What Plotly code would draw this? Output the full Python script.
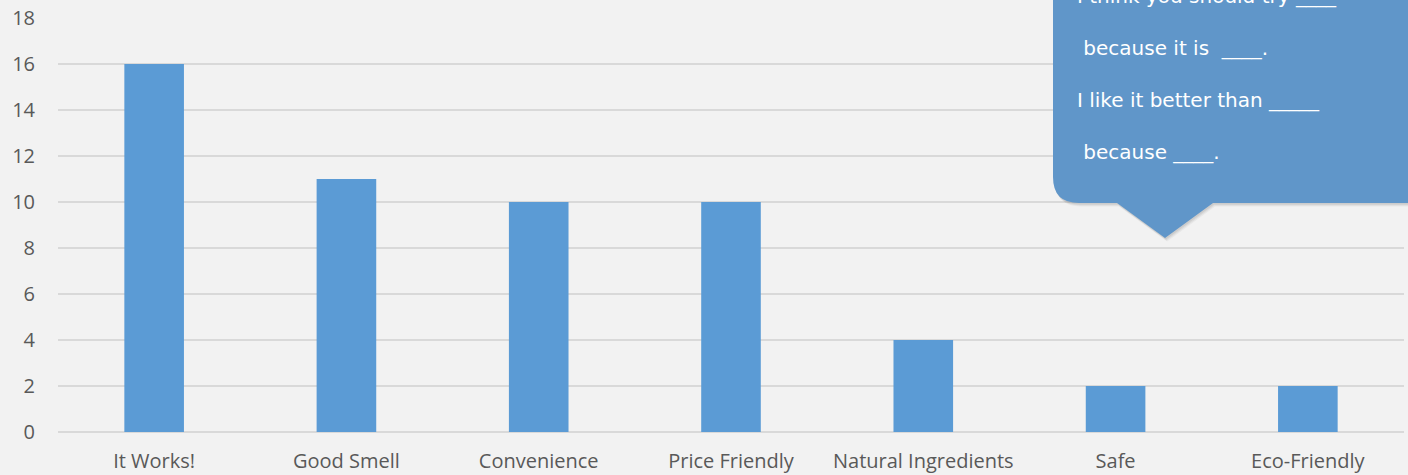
import plotly.graph_objects as go

# Survey results: reasons for choosing a product
categories = ["It Works!", "Good Smell", "Convenience", "Price Friendly",
              "Natural Ingredients", "Safe", "Eco-Friendly"]
votes = [16, 11, 10, 10, 4, 2, 2]
y_ticks = [0, 2, 4, 6, 8, 10, 12, 14, 16, 18]

# Speech-bubble prompt lines
bubble_lines = ["I think you should try ____",
                " because it is  ____.",
                "I like it better than _____",
                " because ____."]

W, H = 1408, 475
L, R, T, B = 58, 4, 18, 43
PW, PH = W - L - R, H - T - B


def px(x):
    return (x - L) / PW


def py(y):
    return (H - B - y) / PH


fig = go.Figure(go.Bar(
    x=categories, y=votes,
    marker=dict(color="#5b9bd5", line=dict(width=0)),
    width=0.31,
))


def bubble_path(dx=0.0, dy=0.0):
    x0, x1 = 1053 + dx, 1440 + dx
    y0, y1 = -30 + dy, 203 + dy
    r = 26
    tl, tr, tip = 1117 + dx, 1213 + dx, (1165 + dx, 238 + dy)
    pts = [
        f"M{px(x0)},{py(y0)}",
        f"L{px(x0)},{py(y1 - r)}",
        f"Q{px(x0)},{py(y1)} {px(x0 + r)},{py(y1)}",
        f"L{px(tl)},{py(y1)}",
        f"L{px(tip[0])},{py(tip[1])}",
        f"L{px(tr)},{py(y1)}",
        f"L{px(x1)},{py(y1)}",
        f"L{px(x1)},{py(y0)}",
        "Z",
    ]
    return " ".join(pts)


# soft drop shadow under the bubble
for off, alpha in [(3.5, 0.06), (2.5, 0.08), (1.5, 0.1)]:
    fig.add_shape(type="path", xref="paper", yref="paper", layer="above",
                  path=bubble_path(off * 0.6, off), fillcolor=f"rgba(80,80,80,{alpha})",
                  line=dict(width=0))
fig.add_shape(type="path", xref="paper", yref="paper", layer="above",
              path=bubble_path(), fillcolor="#6096c9",
              line=dict(width=0))

line_pos = [(1075, -4), (1075, 48), (1075, 100), (1075, 152)]
for text, (x, y) in zip(bubble_lines, line_pos):
    fig.add_annotation(x=px(x), y=py(y), xref="paper", yref="paper",
                       text=text.replace(" ", "&nbsp;"), showarrow=False,
                       xanchor="left", yanchor="middle",
                       font=dict(family="Comic Sans MS, DejaVu Sans",
                                 size=20, color="white"))

fig.update_layout(
    width=W, height=H,
    margin=dict(l=L, r=R, t=T, b=B, autoexpand=False),
    paper_bgcolor="#f2f2f2", plot_bgcolor="#f2f2f2",
    showlegend=False,
    font=dict(family="Open Sans, Noto Sans, sans-serif", size=20,
              color="#595959"),
    xaxis=dict(showgrid=False, showline=False, ticks="",
               ticklabelstandoff=15, automargin=False, fixedrange=True),
    yaxis=dict(range=[0, 18], tickvals=y_ticks, showgrid=True,
               gridcolor="#d9d9d9", gridwidth=1.5, zeroline=True,
               zerolinecolor="#d9d9d9", zerolinewidth=1.5,
               showline=False, ticks="", ticklabelstandoff=22,
               automargin=False, fixedrange=True),
)

fig.write_html("out.html")
